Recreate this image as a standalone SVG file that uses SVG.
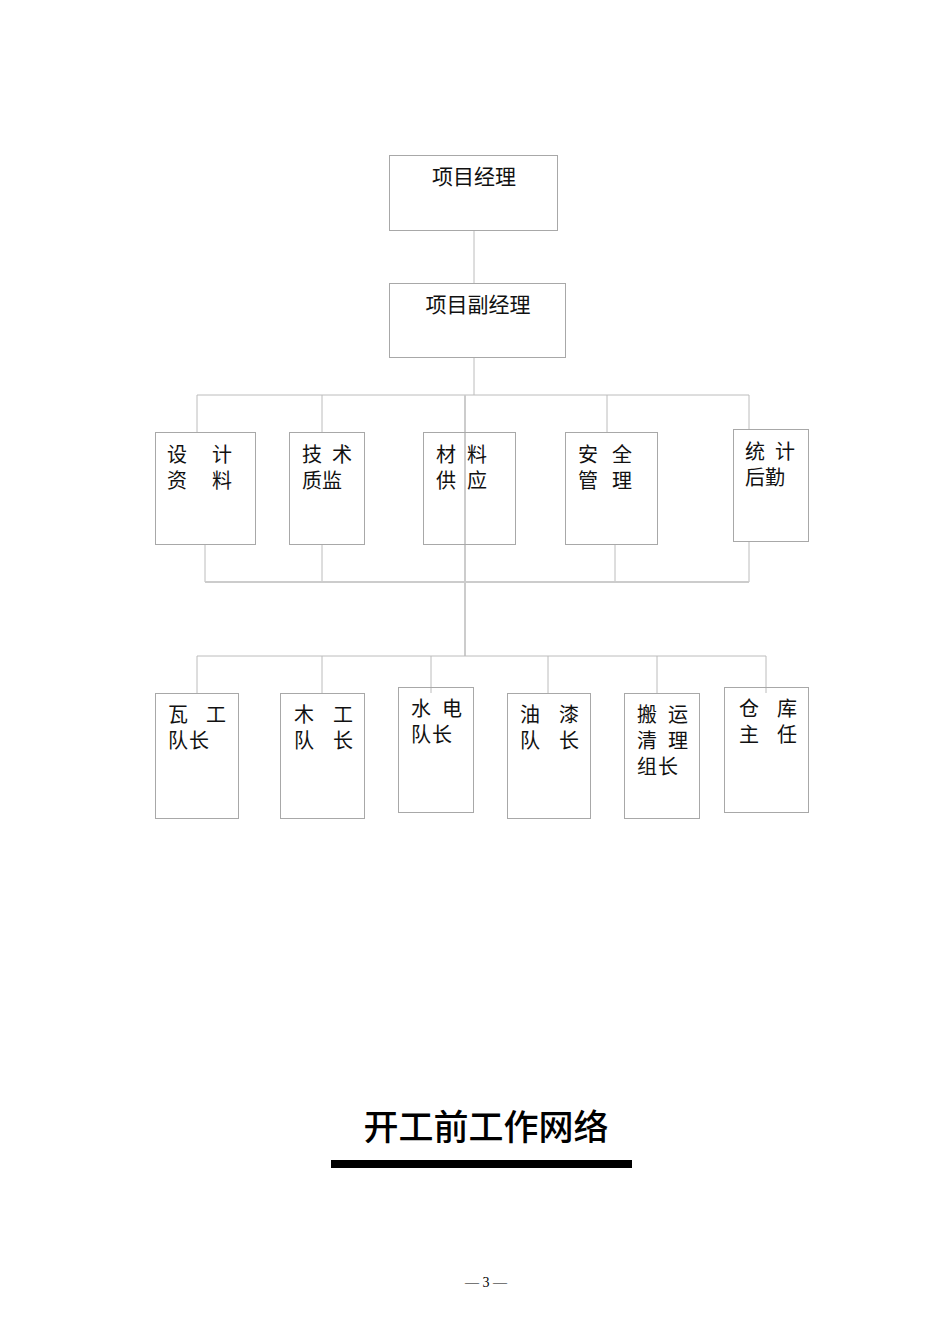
<svg xmlns="http://www.w3.org/2000/svg" width="950" height="1344" viewBox="0 0 950 1344">
<style>
.box{fill:none;stroke:#a8a8a8;stroke-width:1}
.ln{stroke:#bcbcbc;stroke-width:1;fill:none}
.trunk{stroke:#cccccc;stroke-width:2;fill:none}
.t{font-family:"Noto Sans CJK SC","Liberation Serif",serif;font-size:20px;fill:#111}
.t2{font-family:"Noto Sans CJK SC","Liberation Serif",serif;font-size:21px;fill:#111}
</style>
<rect width="950" height="1344" fill="#fff"/>
<g id="connectors">
<line class="ln" x1="474" y1="230" x2="474" y2="283"/>
<line class="ln" x1="474" y1="357" x2="474" y2="395"/>
<line class="ln" x1="197" y1="395" x2="749" y2="395"/>
<line class="ln" x1="197" y1="395" x2="197" y2="432"/>
<line class="ln" x1="322" y1="395" x2="322" y2="432"/>
<line class="ln" x1="607" y1="395" x2="607" y2="432"/>
<line class="ln" x1="749" y1="395" x2="749" y2="429"/>
<line class="trunk" x1="465" y1="395" x2="465" y2="656"/>
<line class="ln" x1="205" y1="544" x2="205" y2="582"/>
<line class="ln" x1="322" y1="544" x2="322" y2="582"/>
<line class="ln" x1="615" y1="544" x2="615" y2="582"/>
<line class="ln" x1="749" y1="541" x2="749" y2="582"/>
<line class="trunk" x1="205" y1="582" x2="749" y2="582"/>
<line class="ln" x1="197" y1="656" x2="766" y2="656"/>
<line class="ln" x1="197" y1="656" x2="197" y2="693"/>
<line class="ln" x1="322" y1="656" x2="322" y2="693"/>
<line class="ln" x1="431" y1="656" x2="431" y2="693"/>
<line class="ln" x1="548" y1="656" x2="548" y2="693"/>
<line class="ln" x1="657" y1="656" x2="657" y2="693"/>
<line class="ln" x1="766" y1="656" x2="766" y2="693"/>
</g>
<g id="n-pm"><rect class="box" x="389.5" y="155.5" width="168" height="75"/><text class="t2" x="474" y="184" text-anchor="middle">项目经理</text></g>
<g id="n-dpm"><rect class="box" x="389.5" y="283.5" width="176" height="74"/><text class="t2" x="478" y="312" text-anchor="middle">项目副经理</text></g>
<g id="n-design"><rect class="box" x="155.5" y="432.5" width="100" height="112"/><text class="t" x="167" y="462" letter-spacing="25">设计</text><text class="t" x="167" y="488" letter-spacing="25">资料</text></g>
<g id="n-tech"><rect class="box" x="289.5" y="432.5" width="75" height="112"/><text class="t" x="302" y="462" letter-spacing="10">技术</text><text class="t" x="302" y="488">质监</text></g>
<g id="n-material"><rect class="box" x="423.5" y="432.5" width="92" height="112"/><text class="t" x="436" y="462" letter-spacing="11">材料</text><text class="t" x="436" y="488" letter-spacing="11">供应</text></g>
<g id="n-safety"><rect class="box" x="565.5" y="432.5" width="92" height="112"/><text class="t" x="578" y="462" letter-spacing="14">安全</text><text class="t" x="578" y="488" letter-spacing="14">管理</text></g>
<g id="n-stats"><rect class="box" x="733.5" y="429.5" width="75" height="112"/><text class="t" x="745" y="459" letter-spacing="10">统计</text><text class="t" x="745" y="485">后勤</text></g>
<g id="n-mason"><rect class="box" x="155.5" y="693.5" width="83" height="125"/><text class="t" x="168" y="722" letter-spacing="18">瓦工</text><text class="t" x="168" y="748" letter-spacing="1">队长</text></g>
<g id="n-carpenter"><rect class="box" x="280.5" y="693.5" width="84" height="125"/><text class="t" x="294" y="722" letter-spacing="19">木工</text><text class="t" x="294" y="748" letter-spacing="19">队长</text></g>
<g id="n-electric"><rect class="box" x="398.5" y="687.5" width="75" height="125"/><text class="t" x="411" y="716" letter-spacing="11">水电</text><text class="t" x="411" y="742" letter-spacing="1">队长</text></g>
<g id="n-paint"><rect class="box" x="507.5" y="693.5" width="83" height="125"/><text class="t" x="520" y="722" letter-spacing="19">油漆</text><text class="t" x="520" y="748" letter-spacing="19">队长</text></g>
<g id="n-transport"><rect class="box" x="624.5" y="693.5" width="75" height="125"/><text class="t" x="637" y="722" letter-spacing="11">搬运</text><text class="t" x="637" y="748" letter-spacing="11">清理</text><text class="t" x="637" y="774" letter-spacing="1">组长</text></g>
<g id="n-warehouse"><rect class="box" x="724.5" y="687.5" width="84" height="125"/><text class="t" x="739" y="716" letter-spacing="18">仓库</text><text class="t" x="739" y="742" letter-spacing="18">主任</text></g>
<g id="title">
<text x="486" y="1140" text-anchor="middle" font-family="'Noto Sans CJK SC',sans-serif" font-size="35" font-weight="500" fill="#000">开工前工作网络</text>
<rect x="331" y="1160" width="301" height="8" fill="#000"/>
</g>
<text x="486" y="1287" text-anchor="middle" font-family="'Liberation Serif',serif" font-size="14" fill="#000">— 3 —</text>
</svg>
